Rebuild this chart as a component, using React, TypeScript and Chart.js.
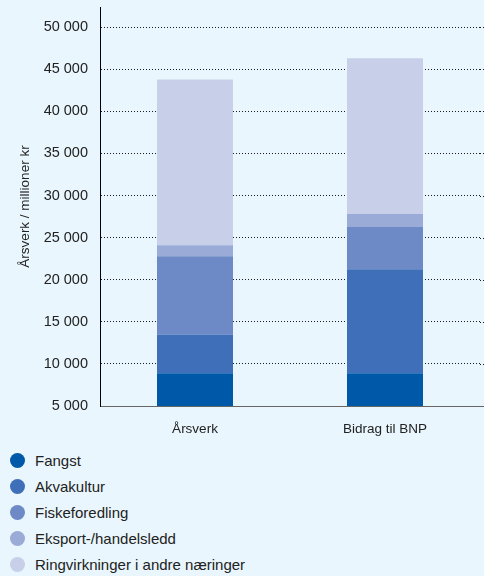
import React, { useEffect, useRef } from "react";
import { Chart, registerables } from "chart.js";

Chart.register(...registerables);

const categories = ["Årsverk", "Bidrag til BNP"];
const seriesNames = [
  "Fangst",
  "Akvakultur",
  "Fiskeforedling",
  "Eksport-/handelsledd",
  "Ringvirkninger i andre næringer",
];
const fangst = [8900, 8900];
const akvakultur = [4600, 12350];
const fiskeforedling = [9300, 5000];
const eksport = [1300, 1550];
const ringvirkninger = [19700, 18500];
const seriesValues = [fangst, akvakultur, fiskeforedling, eksport, ringvirkninger];
const seriesColors = ["#0058a8", "#3e6fb8", "#6d8ac6", "#99abd6", "#c7cfe9"];

const yTitle = "Årsverk / millioner kr";
const yTicks = [5000, 10000, 15000, 20000, 25000, 30000, 35000, 40000, 45000, 50000];
const yMin = 5000;
const yMax = 52400;

const BG = "#e9f6fd";
const FONT = "'Liberation Sans', Arial, sans-serif";

const fmt = (v: number) => String(Math.round(v)).replace(/\B(?=(\d{3})+(?!\d))/g, " ");

// Carries the dotted grid lines and the base line on to the right edge of the canvas.
const extendLines = {
  id: "extendLines",
  afterDraw(chart: any) {
    const { ctx, chartArea } = chart;
    const y = chart.scales.y;
    ctx.save();
    ctx.lineWidth = 1;
    ctx.strokeStyle = "#1a1a1a";
    ctx.setLineDash([1, 2]);
    y.ticks.forEach((t: any) => {
      if (t.value === yMin) return;
      const py = Math.round(y.getPixelForValue(t.value)) + 0.5;
      ctx.beginPath();
      ctx.moveTo(chartArea.right, py);
      ctx.lineTo(chart.width, py);
      ctx.stroke();
    });
    ctx.setLineDash([]);
    ctx.strokeStyle = "#666";
    const by = Math.round(y.getPixelForValue(yMin)) + 0.5;
    ctx.beginPath();
    ctx.moveTo(chartArea.right, by);
    ctx.lineTo(chart.width, by);
    ctx.stroke();
    ctx.restore();
  },
};

export default function App() {
  const ref = useRef<HTMLCanvasElement | null>(null);

  useEffect(() => {
    document.body.style.margin = "0";
    document.body.style.background = BG;
    const chart = new Chart(ref.current as HTMLCanvasElement, {
      type: "bar",
      data: {
        labels: categories,
        datasets: seriesNames.map((name, i) => ({
          label: name,
          data: seriesValues[i],
          backgroundColor: seriesColors[i],
          borderWidth: 0,
          categoryPercentage: 1,
          barPercentage: 0.4,
        })),
      },
      options: {
        animation: false,
        responsive: false,
        devicePixelRatio: 1,
        layout: { padding: { top: 7, right: 4, left: 0, bottom: 0 } },
        plugins: { legend: { display: false }, tooltip: { enabled: false } },
        scales: {
          x: {
            stacked: true,
            z: 1,
            grid: { display: false, drawTicks: false },
            border: { display: true, color: "#666", width: 1 },
            ticks: {
              color: "#222",
              padding: 15,
              font: { family: FONT, size: 13.5 },
            },
            afterFit(scale: any) {
              scale.height = 34;
              scale.paddingLeft = 0;
              scale.paddingRight = 0;
            },
          },
          y: {
            stacked: true,
            min: yMin,
            max: yMax,
            grid: { display: true, drawTicks: false, color: "#1a1a1a", lineWidth: 1 },
            border: { display: true, color: "#000", width: 1, dash: [1, 2] },
            afterBuildTicks(scale: any) {
              scale.ticks = yTicks.map((v) => ({ value: v }));
            },
            ticks: {
              color: "#222",
              padding: 12,
              font: { family: FONT, size: 14.5 },
              callback: (v: any) => fmt(Number(v)),
            },
            title: {
              display: true,
              text: yTitle,
              color: "#222",
              padding: { top: 17, bottom: 0 },
              font: { family: FONT, size: 13.5 },
            },
            afterFit(scale: any) {
              scale.width = 100;
              scale.paddingTop = 0;
              scale.paddingBottom = 0;
            },
          },
        },
      },
      plugins: [extendLines],
    } as any);
    return () => chart.destroy();
  }, []);

  return (
    <div style={{ width: 484, height: 576, background: BG, fontFamily: FONT }}>
      <canvas ref={ref} width={484} height={440} style={{ display: "block", width: 484, height: 440 }} />
      <div style={{ paddingTop: 8 }}>
        {seriesNames.map((name, i) => (
          <div
            key={name}
            style={{ display: "flex", alignItems: "center", height: 25.8, color: "#222", fontSize: 15 }}
          >
            <span
              style={{
                display: "inline-block",
                width: 15,
                height: 15,
                borderRadius: "50%",
                background: seriesColors[i],
                marginLeft: 9.5,
                marginRight: 10.5,
                flex: "none",
              }}
            />
            <span>{name}</span>
          </div>
        ))}
      </div>
    </div>
  );
}
